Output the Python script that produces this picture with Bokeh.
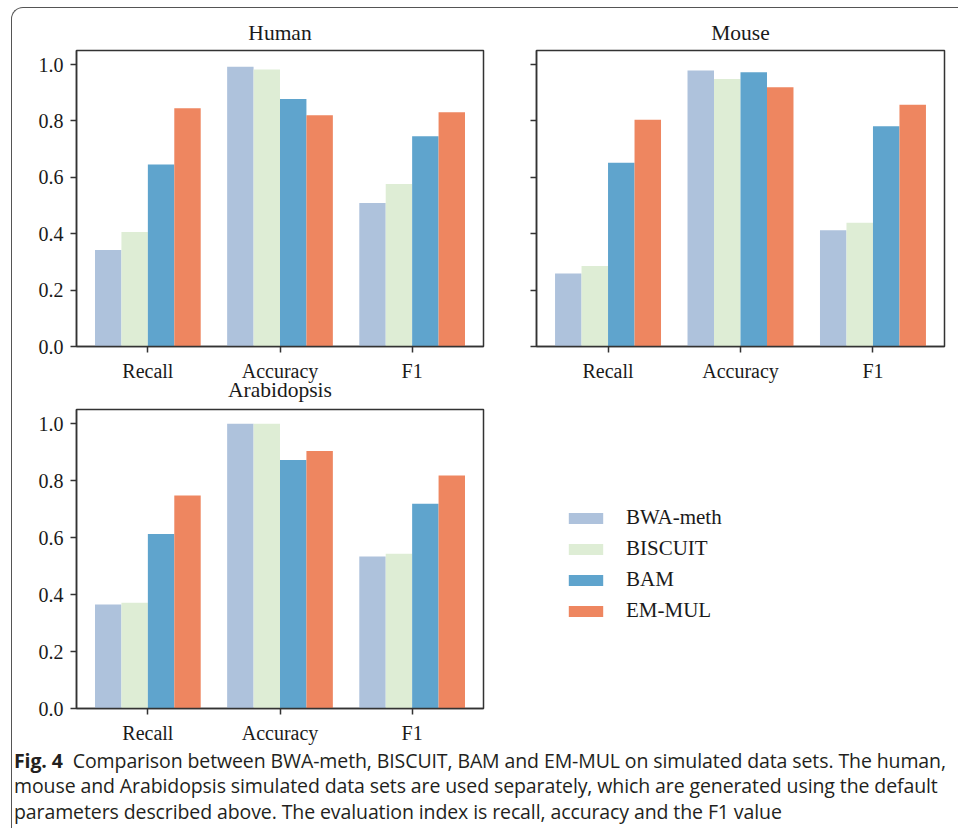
from bokeh.plotting import figure
from bokeh.models import (Legend, LegendItem, FixedTicker, Div,
                          ColumnDataSource, PrintfTickFormatter, CustomJSTickFormatter)
from bokeh.layouts import column, row
from bokeh.embed import file_html
from bokeh.resources import INLINE

# ---------------- data ----------------
metrics = ["Recall", "Accuracy", "F1"]
methods = ["BWA-meth", "BISCUIT", "BAM", "EM-MUL"]
colors = ["#aec2dc", "#deedd5", "#5fa4cd", "#ee8660"]

human_bwa = [0.342, 0.992, 0.509]
human_biscuit = [0.406, 0.983, 0.576]
human_bam = [0.646, 0.878, 0.746]
human_emmul = [0.845, 0.820, 0.831]

mouse_bwa = [0.259, 0.979, 0.412]
mouse_biscuit = [0.286, 0.949, 0.439]
mouse_bam = [0.652, 0.973, 0.781]
mouse_emmul = [0.804, 0.920, 0.858]

arab_bwa = [0.365, 1.000, 0.534]
arab_biscuit = [0.371, 1.000, 0.543]
arab_bam = [0.613, 0.873, 0.719]
arab_emmul = [0.748, 0.904, 0.818]

y_ticks = [0.0, 0.2, 0.4, 0.6, 0.8, 1.0]

SERIF = "Liberation Serif"
LINE = "#333333"
TXT = "#1a1a1a"

bar_w = 0.2
offsets = [(j - 1.5) * bar_w for j in range(len(methods))]


def make_panel(series, title, title_standoff, ylabels=True, **sizing):
    p = figure(x_range=(-0.54, 2.54), y_range=(0, 1.05),
               output_backend="svg", toolbar_location=None, **sizing)
    p.title.text = title
    p.title.align = "center"
    p.title.text_font = SERIF
    p.title.text_font_size = "21.5px"
    p.title.text_font_style = "normal"
    p.title.text_color = TXT
    p.title.standoff = title_standoff
    p.background_fill_color = "white"
    p.border_fill_alpha = 0
    p.outline_line_color = LINE
    p.outline_line_width = 1.5
    p.xgrid.visible = False
    p.ygrid.visible = False
    renderers = []
    for j, vals in enumerate(series):
        src = ColumnDataSource(dict(x=[i + offsets[j] for i in range(len(metrics))],
                                    top=vals))
        r = p.vbar(x="x", top="top", width=bar_w, source=src,
                   fill_color=colors[j], line_color=None)
        renderers.append(r)
    for ax in (p.xaxis[0], p.yaxis[0]):
        ax.axis_line_color = LINE
        ax.axis_line_width = 1.5
        ax.major_tick_line_color = LINE
        ax.major_tick_line_width = 1.5
        ax.major_tick_out = 6
        ax.major_tick_in = 0
        ax.minor_tick_line_color = None
        ax.major_label_text_font = SERIF
        ax.major_label_text_font_size = "20px"
        ax.major_label_text_color = TXT
    p.xaxis.ticker = FixedTicker(ticks=list(range(len(metrics))))
    p.xaxis.major_label_overrides = {i: m for i, m in enumerate(metrics)}
    p.xaxis.major_label_standoff = 7
    p.yaxis.ticker = FixedTicker(ticks=y_ticks)
    p.yaxis.major_label_standoff = 7
    if ylabels:
        p.yaxis.formatter = PrintfTickFormatter(format="%.1f")
    else:
        p.yaxis.formatter = CustomJSTickFormatter(code="return ''")
    return p, renderers


# Row 1
fig_h, _ = make_panel([human_bwa, human_biscuit, human_bam, human_emmul],
                      "Human", 12, width=488, height=376,
                      min_border_left=64, min_border_right=17,
                      min_border_top=42, min_border_bottom=35)
fig_m, _ = make_panel([mouse_bwa, mouse_biscuit, mouse_bam, mouse_emmul],
                      "Mouse", 12, ylabels=False, width=450, height=376,
                      min_border_left=36, min_border_right=6,
                      min_border_top=42, min_border_bottom=35)

# Row 2 (its transparent top strip overlaps row 1 slightly, as in the original)
fig_a, rs = make_panel([arab_bwa, arab_biscuit, arab_bam, arab_emmul],
                       "Arabidopsis", 16, frame_width=407, frame_height=299,
                       min_border_left=64, min_border_right=0,
                       min_border_top=50, min_border_bottom=36)
fig_a.margin = (-25, 0, 0, 0)

legend = Legend(items=[LegendItem(label=m, renderers=[r]) for m, r in zip(methods, rs)],
                location=(81, 85), orientation="vertical",
                glyph_width=43, glyph_height=14, label_height=14,
                label_standoff=19, spacing=6, padding=0, margin=82,
                border_line_alpha=0, background_fill_alpha=0,
                label_text_font=SERIF, label_text_font_size="21px",
                label_text_color=TXT)
fig_a.add_layout(legend, "right")

caption_html = (
    '<div style="font-family: \'Open Sans\', sans-serif; font-size: 19.5px; '
    'line-height: 25.5px; color: #231f20; padding: 1.5px 0 0 2px; white-space: nowrap; '
    'letter-spacing: -0.1px;">'
    '<b>Fig. 4</b>&nbsp; Comparison between BWA-meth, BISCUIT, BAM and EM-MUL on simulated '
    'data sets. The human,<br>mouse and Arabidopsis simulated data sets are used separately, '
    'which are generated using the default<br>parameters described above. The evaluation '
    'index is recall, accuracy and the F1 value</div>'
)
caption = Div(text=caption_html, width=945, height=82, margin=0)

p = column(row(fig_h, fig_m), fig_a, caption,
           margin=(7, 0, 0, 11),
           styles={"border-top": "1.5px solid #555", "border-left": "1.5px solid #555",
                   "border-top-left-radius": "12px"})

open("out.html", "w").write(file_html(p, INLINE))
